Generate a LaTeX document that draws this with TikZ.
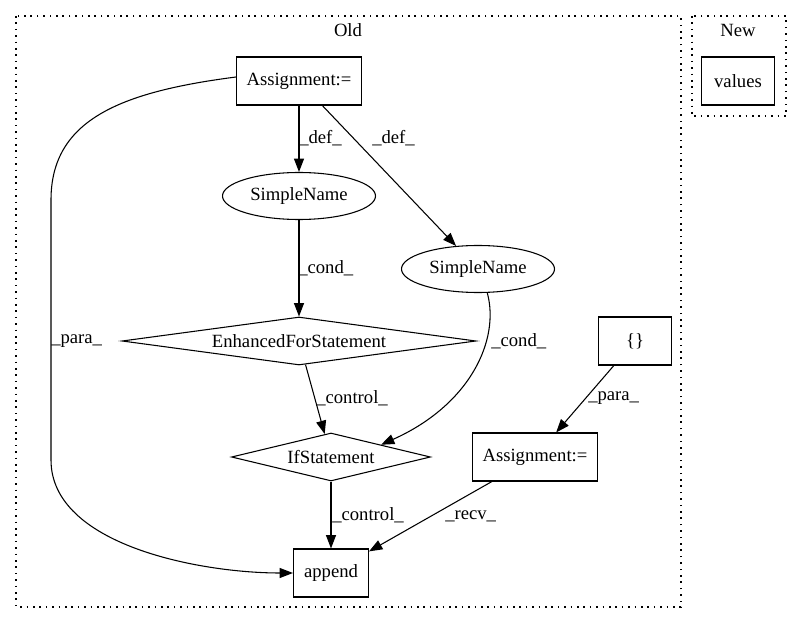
\documentclass[tikz,border=0pt]{standalone}
\usepackage{fontspec}
\setmainfont{Liberation Serif}
\usetikzlibrary{shapes.geometric,arrows.meta}

\tikzset{
  box/.style={draw, rectangle, line width=0.8pt, inner sep=0pt, minimum height=36pt},
  oval/.style={draw, ellipse, line width=0.8pt, inner sep=0pt, minimum width=114.75pt, minimum height=35.25pt},
  rhomb/.style={draw, diamond, aspect=7, line width=0.8pt, inner sep=0pt, minimum height=36pt},
  lbl/.style={anchor=west, inner sep=0pt},
  flow/.style={-{Triangle[length=10pt,width=7.5pt]}, line width=0.8pt},
  cluster/.style={draw, line width=1pt, dash pattern=on 1.2pt off 3.6pt},
}

\begin{document}
\begin{tikzpicture}[x=0.75pt,y=0.75pt,yscale=-1,xscale=1,font=\fontsize{14}{16}\selectfont]
\useasboundingbox (0,0) rectangle (801,624);

% clusters
\draw[cluster] (16,16) rectangle (681,607);
\draw[cluster] (692,16) rectangle (786,116);
\node (oldtitle) at (348,30) {Old};
\node (newtitle) at (738,30) {New};

% Old
\node[box, minimum width=93.75pt] (asg) at (299,81) {Assignment:=};
\node[oval] (snA) at (299,196) {SimpleName};
\node[oval] (snB) at (478,269) {SimpleName};
\node[rhomb, minimum width=265.5pt] (efs) at (299,341) {EnhancedForStatement};
\node[rhomb, minimum width=149.25pt] (ifs) at (331,457) {IfStatement};
\node[box, minimum width=56.25pt] (app) at (331,573) {append};
\node[box, minimum width=54.75pt] (brc) at (635,341) {\{\}};
\node[box, minimum width=93.75pt] (asgB) at (535,457) {Assignment:=};

% New
\node[box, minimum width=54.75pt] (vals) at (738,81) {values};

% edges
\draw[flow] (asg) -- (snA);
\draw[flow] (asg) -- (snB);
\draw[flow] ([yshift=-3pt]asg.west) .. controls (120,92) and (51,120) .. (51,200) -- (51,460) .. controls (51,545) and (200,573) .. (app.west);
\draw[flow] (snA) -- (efs);
\draw[flow] ([xshift=7pt]snB.south) .. controls (500,340) and (470,405) .. (ifs.north east);
\draw[flow] (efs) -- (ifs);
\draw[flow] (ifs) -- (app);
\draw[flow] (brc) -- (asgB);
\draw[flow] (asgB) -- (app);

% Text Node
\node[lbl] (l1) at (299,138) {\_def\_};
\node[lbl] (l2) at (372,138) {\_def\_};
\node[lbl] (l3) at (51,341) {\_para\_};
\node[lbl] (l4) at (298,268) {\_cond\_};
\node[lbl] (l5) at (491,341) {\_cond\_};
\node[lbl] (l6) at (316,398) {\_control\_};
\node[lbl] (l7) at (332,515) {\_control\_};
\node[lbl] (l8) at (588,398) {\_para\_};
\node[lbl] (l9) at (445,516) {\_recv\_};

\end{tikzpicture}
\end{document}
